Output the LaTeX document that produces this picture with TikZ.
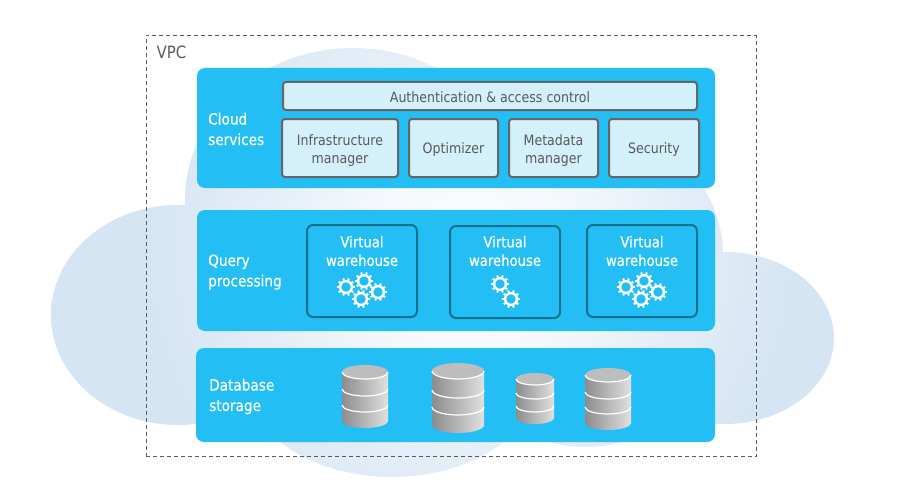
\documentclass[tikz,border=0pt]{standalone}
\usepackage{fontspec}
\setmainfont{DejaVu Sans}[FakeStretch=0.88]
\newfontfamily\whitefont{DejaVu Sans}[FakeStretch=0.88,FakeBold=0.25]
\definecolor{panelblue}{HTML}{23BEF4}
\definecolor{boxfill}{HTML}{D3F0FB}
\definecolor{boxline}{HTML}{666666}
\definecolor{wareline}{HTML}{16708F}
\definecolor{labelgray}{HTML}{5A5A5A}
\pgfdeclareradialshading{cloudshade}{\pgfpointorigin}{rgb(0bp)=(0.98,0.99,1); rgb(5bp)=(0.96,0.975,0.99); rgb(11bp)=(0.89,0.93,0.97); rgb(16bp)=(0.84,0.90,0.955); rgb(50bp)=(0.84,0.90,0.955)}
\tikzset{
  panel/.style={fill=panelblue, rounded corners=8pt, inner sep=0pt},
  lightbox/.style={draw=boxline, fill=boxfill, line width=2pt, rounded corners=3pt, inner sep=0pt},
  boxtext/.style={text=labelgray, align=center, inner sep=0pt, font=\fontsize{14.3}{18}\selectfont},
  warebox/.style={draw=wareline, line width=2pt, rounded corners=6pt, minimum width=110pt, minimum height=92pt, inner sep=0pt},
  paneltext/.style={text=white, align=left, anchor=west, inner sep=0pt, font=\whitefont\fontsize{15.5}{20.5}\selectfont},
  waretext/.style={text=white, align=center, inner sep=0pt, font=\whitefont\fontsize{15}{18.5}\selectfont},
  gear/.pic={
    \draw[white, line width=2.4pt] (0,0) circle[radius=5.9];
    \foreach \a in {0,36,...,324} \draw[white, line width=1.9pt] (\a:6.5)--(\a:9);
  }
}
% center x, half width, top y, ellipse ry, band y, band y, bottom edge y
\newcommand{\dbstack}[7]{
  \shade[left color=black!45, right color=black!12]
    (#1-#2,#3)--(#1-#2,#7) arc[start angle=180, end angle=0, x radius=#2, y radius=#4]--(#1+#2,#3)--cycle;
  \draw[white, line width=1.2pt] (#1-#2,#5) arc[start angle=180, end angle=0, x radius=#2, y radius=#4];
  \draw[white, line width=1.2pt] (#1-#2,#6) arc[start angle=180, end angle=0, x radius=#2, y radius=#4];
  \fill[black!26] (#1,#3) ellipse[x radius=#2, y radius=#4];
  \draw[white, line width=1.2pt] (#1-#2,#3) arc[start angle=180, end angle=0, x radius=#2, y radius=#4];
}
\begin{document}
\begin{tikzpicture}[x=1pt,y=-1pt]
\useasboundingbox (0,0) rectangle (913,495);
% cloud
\begin{scope}
\clip (178,315) ellipse[x radius=127, y radius=110]
      (725,338) ellipse[x radius=109, y radius=86]
      (353,200) ellipse[x radius=168, y radius=152]
      (540,255) ellipse[x radius=183, y radius=150]
      (392,380) ellipse[x radius=145, y radius=97]
      (585,400) ellipse[x radius=80, y radius=47];
\shade[shading=cloudshade] (-30,-250) rectangle (970,750);
\end{scope}
\node[draw=labelgray, line width=.8pt, dash pattern=on 4pt off 3pt, minimum width=610pt, minimum height=421pt, inner sep=0pt] (vpcbox) at (451,246) {};
\node[text=labelgray, inner sep=0pt, font=\fontsize{17}{20}\selectfont] (vpclabel) at (171.5,52) {VPC};
% panels
\node[panel, minimum width=518pt, minimum height=120pt] (cloudpanel) at (456,128) {};
\node[panel, minimum width=518pt, minimum height=121pt] (querypanel) at (456,270.5) {};
\node[panel, minimum width=519pt, minimum height=94pt] (storagepanel) at (455.5,395) {};
\node[paneltext] (cloudlabel) at (208,129) {Cloud\\services};
\node[paneltext] (querylabel) at (208,272) {Query\\processing};
\node[paneltext] (storagelabel) at (209,396.5) {Database\\storage};
% cloud services
\node[lightbox, minimum width=414pt, minimum height=28pt] (authbox) at (490,96) {};
\node[lightbox, minimum width=116pt, minimum height=58pt] (infrabox) at (340,148) {};
\node[lightbox, minimum width=89pt, minimum height=58pt] (optbox) at (453.5,148) {};
\node[lightbox, minimum width=89pt, minimum height=58pt] (metabox) at (553.5,148) {};
\node[lightbox, minimum width=90pt, minimum height=58pt] (secbox) at (654,148) {};
\node[boxtext] (authtext) at (490,97) {Authentication \& access control};
\node[boxtext] (infratext) at (340,150.5) {Infrastructure\\manager};
\node[boxtext] (opttext) at (453.5,149.5) {Optimizer};
\node[boxtext] (metatext) at (553.5,150.5) {Metadata\\manager};
\node[boxtext] (sectext) at (654,149.5) {Security};
% query processing
\node[warebox] (wareone) at (362,271) {};
\node[warebox] (waretwo) at (505,272) {};
\node[warebox] (warethree) at (642,271) {};
\node[waretext] (waretextone) at (362,251) {Virtual\\warehouse};
\node[waretext] (waretexttwo) at (505,251) {Virtual\\warehouse};
\node[waretext] (waretextthree) at (642,251) {Virtual\\warehouse};
\foreach \x/\y in {346/287,364/281,378/292,361/299,626/287,644/281,658/292,641/299,500/284,511/299}
  \pic at (\x,\y) {gear};
% database storage
\dbstack{365}{23}{372}{7}{389}{405}{421}
\dbstack{458}{26}{371}{8}{390}{407}{425}
\dbstack{535}{19}{379}{6}{393}{406}{418}
\dbstack{608}{23}{375}{7}{392}{407}{423}
\end{tikzpicture}
\end{document}
